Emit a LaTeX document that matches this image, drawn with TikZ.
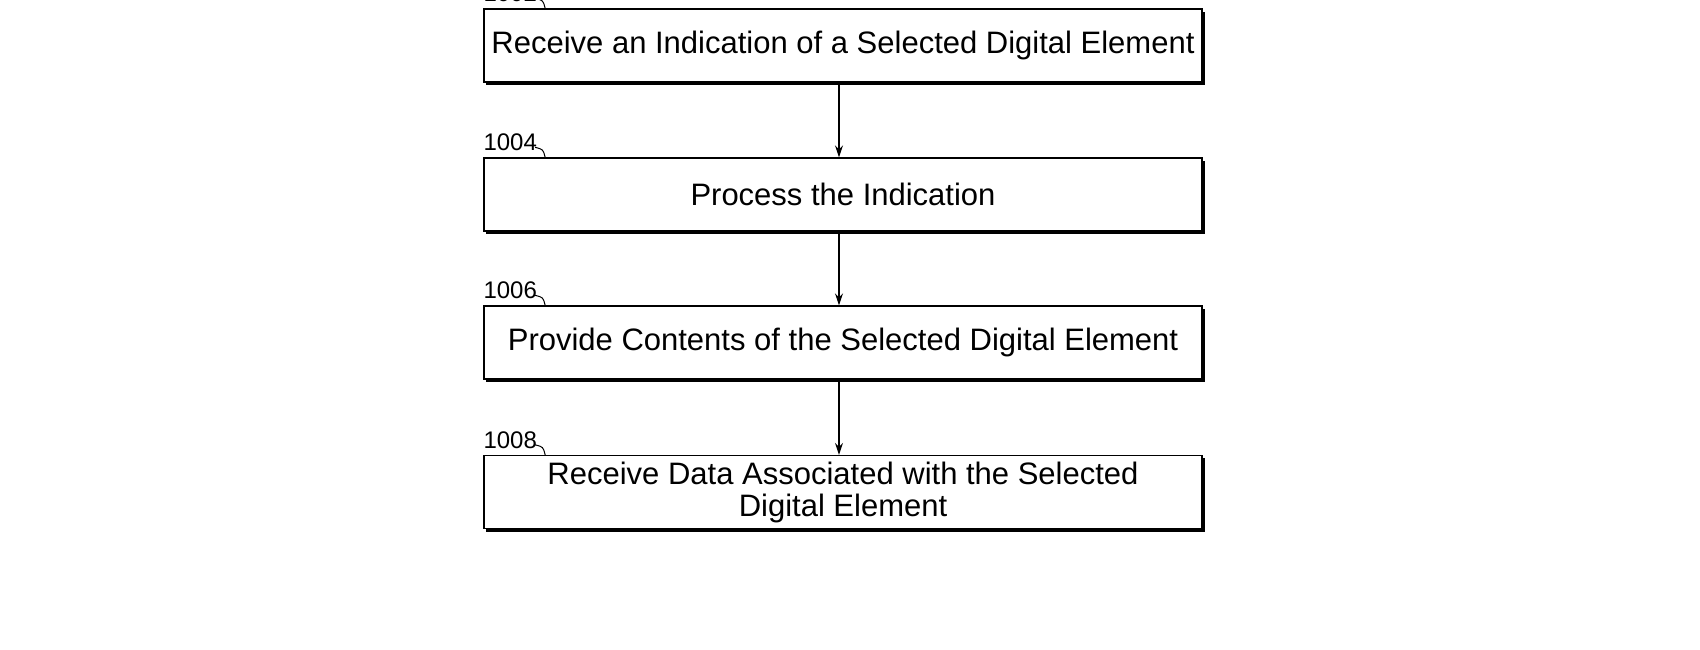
\documentclass[tikz,border=0pt]{standalone}
\usepackage{fontspec}
\setmainfont{Liberation Sans}
\usetikzlibrary{arrows.meta}
\begin{document}
\begin{tikzpicture}[x=1pt,y=-1pt,
 stepbox/.style={draw,line width=1.3pt,minimum width=718pt,minimum height=73pt,inner sep=0pt,align=center,font=\fontsize{31}{32}\selectfont},
 shad/.style={line width=2.5pt},
 lbl/.style={font=\fontsize{24}{26}\selectfont,anchor=south west,inner sep=0pt},
 arr/.style={-{Stealth[length=12pt,width=8pt]},line width=1.3pt}]
\useasboundingbox (0,0) rectangle (1700,650);
\foreach \n/\t/\b/\txt in {a/9/82/{Receive an Indication of a Selected Digital Element},b/158/231/{Process the Indication},c/306/379/{Provide Contents of the Selected Digital Element},d/455/529/{Receive Data Associated with the Selected\\Digital Element}}{
 \draw[shad] (486,\b+1.5) -- (1203.5,\b+1.5) -- (1203.5,\t+3);
 \node[stepbox] (\n) at (843,{(\t+\b)/2}) {\txt};
}
\foreach \n/\num in {b/1004,c/1006,d/1008,a/1002}{
 \node[lbl] (l\n) at ([yshift=6pt]\n.north west) {\num};
 \draw[line width=1pt] ([xshift=-2pt,yshift=4pt]l\n.south east) .. controls ([xshift=6pt,yshift=2pt]l\n.south east) .. ([xshift=8pt]\n.north west -| l\n.south east);
}
\draw[arr] (a.south -| 839,0) -- (b.north -| 839,0);
\draw[arr] (b.south -| 839,0) -- (c.north -| 839,0);
\draw[arr] (c.south -| 839,0) -- (d.north -| 839,0);
\end{tikzpicture}
\end{document}
